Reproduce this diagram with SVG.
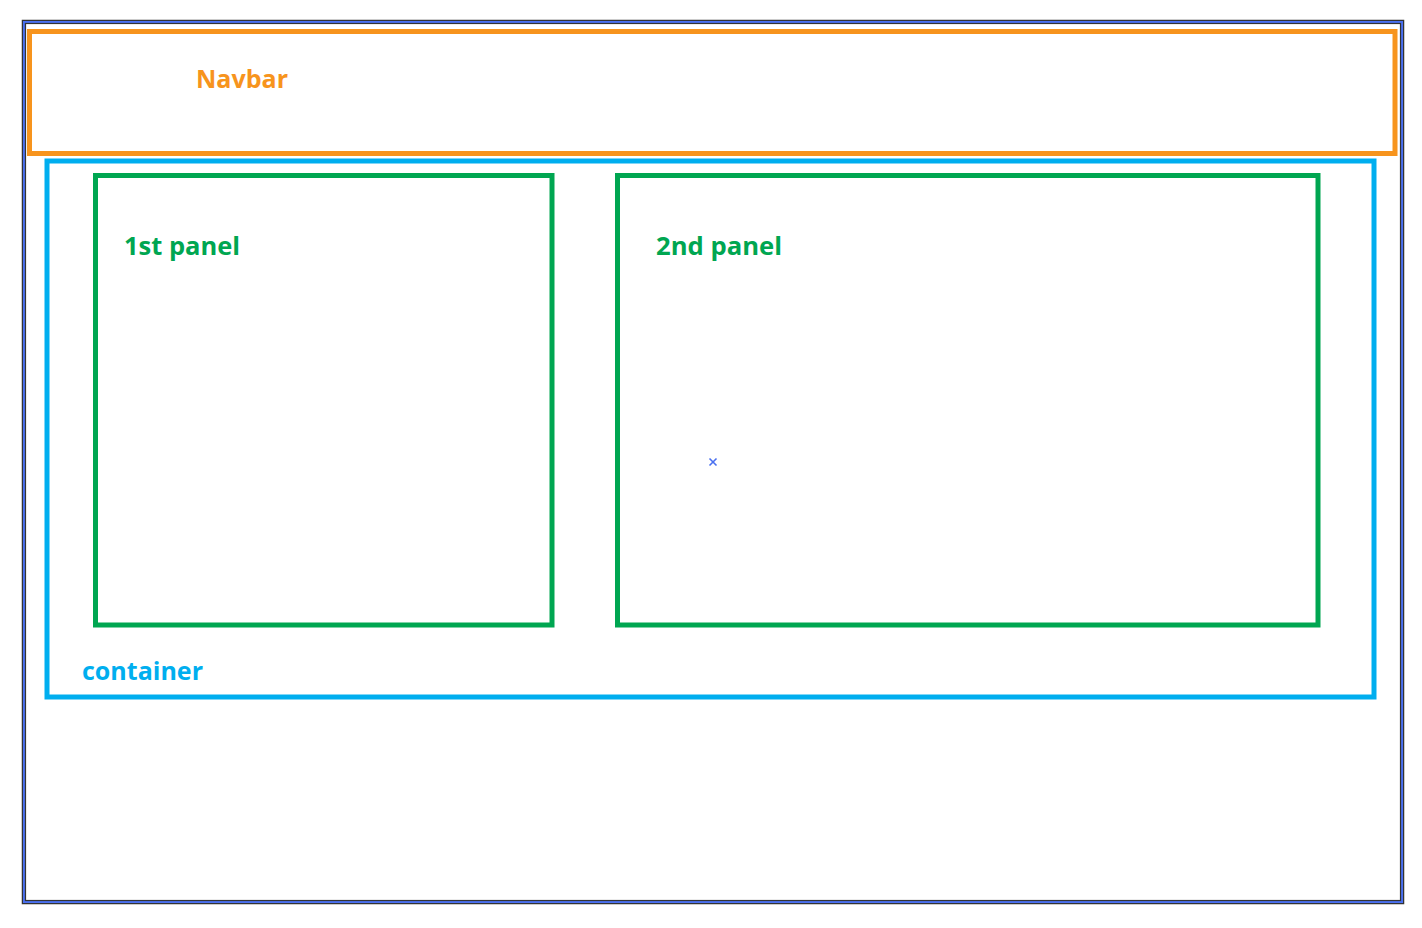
<svg xmlns="http://www.w3.org/2000/svg" width="1422" height="928" viewBox="0 0 1422 928">
<style>
.lbl{font-family:"Open Sans","Liberation Sans",sans-serif;font-weight:bold;font-size:25px}
.box{fill:none;stroke-width:5}
</style>
<rect width="1422" height="928" fill="#ffffff"/>
<g id="frame">
<rect x="22.5" y="20.5" width="1381" height="883" fill="none" stroke="#333333" stroke-width="1.5"/>
<rect x="24" y="22" width="1378" height="880" fill="none" stroke="#4a70f0" stroke-width="2"/>
<rect x="25.5" y="23.5" width="1375" height="877" fill="none" stroke="#333333" stroke-width="1.2"/>
</g>
<g id="navbar">
<rect class="box" x="29.5" y="31.5" width="1365.5" height="122" stroke="#f7941d"/>
<text class="lbl" x="196" y="87.5" fill="#f7941d" textLength="92" lengthAdjust="spacingAndGlyphs">Navbar</text>
</g>
<g id="container">
<rect class="box" x="47" y="161" width="1327" height="536" stroke="#00aeef" stroke-width="4.5"/>
<text class="lbl" x="82" y="679.5" fill="#00aeef" textLength="121" lengthAdjust="spacingAndGlyphs">container</text>
</g>
<g id="panel1">
<rect class="box" x="95.5" y="175.5" width="456.5" height="449.5" stroke="#00a651" stroke-width="4.5"/>
<text class="lbl" x="124" y="255" fill="#00a651" textLength="116" lengthAdjust="spacingAndGlyphs">1st panel</text>
</g>
<g id="panel2">
<rect class="box" x="617.5" y="175.5" width="700.5" height="449.5" stroke="#00a651" stroke-width="4.5"/>
<text class="lbl" x="656" y="255" fill="#00a651" textLength="126" lengthAdjust="spacingAndGlyphs">2nd panel</text>
</g>
<g id="connectors"></g>
<g id="marker" stroke="#4a70f0" stroke-width="1.6">
<line x1="709.5" y1="458.5" x2="716.5" y2="465.5"/>
<line x1="716.5" y1="458.5" x2="709.5" y2="465.5"/>
</g>
</svg>
